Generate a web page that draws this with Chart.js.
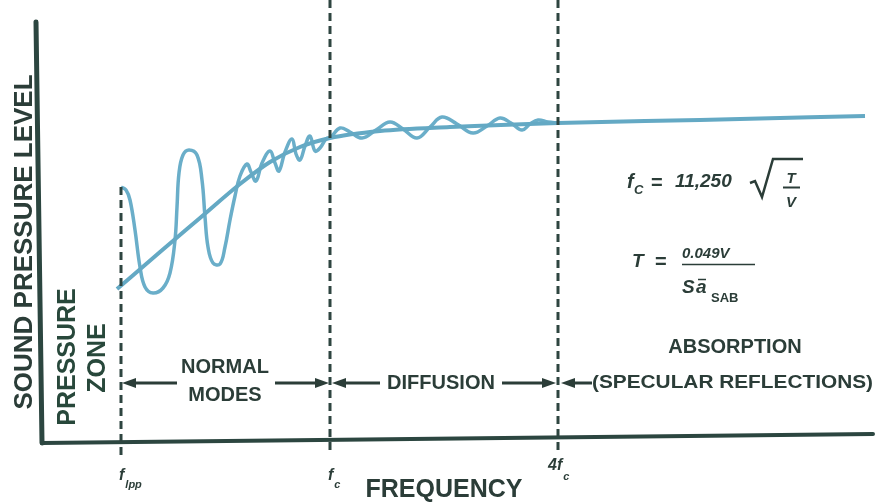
<!DOCTYPE html>
<html>
<head>
<meta charset="utf-8">
<script src="https://cdn.jsdelivr.net/npm/chart.js@4/dist/chart.umd.min.js"></script>
<style>
html,body{margin:0;padding:0;background:#fff;}
canvas{display:block;}
</style>
</head>
<body>
<canvas id="c" width="875" height="504"></canvas>
<script>
// Units: x = frequency position (0 at the axis origin), y = sound pressure level (0 at the axis)
const trendX = [77, 120, 160, 200, 230, 260, 290, 340, 410, 518, 660, 825];
const trendY = [151, 188, 222, 256, 278, 293, 302, 309, 313, 317, 320, 324];

const responseX = [81, 86, 90, 95, 100, 105, 113, 123, 130, 135, 137, 139, 143, 149, 157, 162, 165, 168, 173, 180,
  185, 190, 195, 200, 207, 211, 216, 222, 230, 235, 239, 245, 252, 256, 260, 265, 270, 275, 280, 286,
  291, 300, 310, 322, 336, 350, 363, 377, 390, 402, 417, 433, 447, 460, 471, 482, 490, 498, 508, 518];
const responseY = [253, 250, 240, 210, 173, 153, 147, 152, 167, 200, 233, 267, 285, 290, 285, 260, 223, 193, 177, 176,
  193, 220, 244, 264, 276, 268, 259, 277, 289, 277, 269, 288, 301, 286, 280, 294, 304, 289, 292, 301,
  303, 312, 308, 302, 310, 318, 311, 302, 313, 323, 316, 307, 314, 322, 317, 310, 316, 320, 318, 317];

const boundaryX = [81, 290, 518];
const boundaryTop = [253, 440, 440];
const tickMain = ['f', 'f', '4f'];
const tickSub = ['lpp', 'c', 'c'];

const axisLeftX = [-4, 2];
const axisLeftY = [418, -3];
const axisBottomX = [2, 833];
const axisBottomY = [-3, 6];

const regionNames = ['PRESSURE ZONE', 'NORMAL MODES', 'DIFFUSION', 'ABSORPTION (SPECULAR REFLECTIONS)'];

const pts = (xs, ys) => xs.map((x, i) => ({x: x, y: ys[i]}));

const INK = '#2b3d38';
const AXIS = '#2c4640';
const CURVE = '#6aaec9';

const datasets = [];
boundaryX.forEach((bx, i) => {
  datasets.push({data: [{x: bx, y: boundaryTop[i]}, {x: bx, y: -15}], showLine: true, pointRadius: 0,
    borderColor: '#2e4540', borderWidth: 3, borderDash: [8, 5], tension: 0});
});
datasets.push({data: pts(axisLeftX, axisLeftY), showLine: true, pointRadius: 0, borderColor: AXIS, borderWidth: 5, borderCapStyle: 'round'});
datasets.push({data: pts(axisBottomX, axisBottomY), showLine: true, pointRadius: 0, borderColor: AXIS, borderWidth: 4, borderCapStyle: 'round'});
datasets.push({data: pts(trendX, trendY), showLine: true, pointRadius: 0, borderColor: '#64a9c4', borderWidth: 4, tension: 0.4, cubicInterpolationMode: 'monotone'});
datasets.push({data: pts(responseX, responseY), showLine: true, pointRadius: 0, borderColor: CURVE, borderWidth: 3.5, tension: 0.4});

function arrow(ctx, x1, y, x2) {
  const dir = x2 > x1 ? 1 : -1;
  ctx.beginPath();
  ctx.moveTo(x1, y);
  ctx.lineTo(x2 - dir * 10, y);
  ctx.stroke();
  ctx.beginPath();
  ctx.moveTo(x2, y);
  ctx.lineTo(x2 - dir * 14, y - 5);
  ctx.lineTo(x2 - dir * 14, y + 5);
  ctx.closePath();
  ctx.fill();
}

const annot = {
  id: 'annot',
  afterDatasetsDraw(chart) {
    const ctx = chart.ctx;
    const xs = chart.scales.x, ys = chart.scales.y;
    const bpx = boundaryX.map(v => xs.getPixelForValue(v));
    const rowY = ys.getPixelForValue(57);
    ctx.save();
    ctx.fillStyle = INK;
    ctx.strokeStyle = INK;
    ctx.lineWidth = 3;
    // arrows
    arrow(ctx, 177, rowY, bpx[0] + 1);
    arrow(ctx, 275, rowY, bpx[1] - 1);
    arrow(ctx, 380, rowY, bpx[1] + 2);
    arrow(ctx, 502, rowY, bpx[2] - 2);
    arrow(ctx, 592, rowY, bpx[2] + 3);

    ctx.textAlign = 'center';
    ctx.textBaseline = 'middle';
    ctx.font = 'bold 20px "Liberation Sans", Arial, sans-serif';
    const nm = regionNames[1].split(' ');
    ctx.fillText(nm[0], 225, 367);
    ctx.fillText(nm[1], 225, 395);
    ctx.fillText(regionNames[2], 441, rowY);
    const ab = regionNames[3].split(' (');
    ctx.fillText(ab[0], 735, 347);
    ctx.textAlign = 'left';
    ctx.font = 'bold 19px "Liberation Sans", Arial, sans-serif';
    const spec = '(' + ab[1];
    const w = ctx.measureText(spec).width;
    ctx.save();
    ctx.translate(592, rowY);
    ctx.scale(281 / w, 1);
    ctx.fillText(spec, 0, 0);
    ctx.restore();

    // rotated labels
    ctx.textAlign = 'center';
    ctx.font = 'bold 26px "Liberation Sans", Arial, sans-serif';
    ctx.save();
    ctx.translate(25, 242);
    ctx.rotate(-Math.PI / 2);
    ctx.fillText('SOUND PRESSURE LEVEL', 0, 0);
    ctx.restore();
    ctx.fillStyle = '#28483b';
    ctx.font = 'bold 25px "Liberation Sans", Arial, sans-serif';
    const pz = regionNames[0].split(' ');
    ctx.save();
    ctx.translate(68, 357);
    ctx.rotate(-Math.PI / 2);
    ctx.fillText(pz[0], 0, 0);
    ctx.restore();
    ctx.save();
    ctx.translate(98, 358);
    ctx.rotate(-Math.PI / 2);
    ctx.fillText(pz[1], 0, 0);
    ctx.restore();

    // axis title
    ctx.fillStyle = INK;
    ctx.font = 'bold 25px "Liberation Sans", Arial, sans-serif';
    ctx.fillText('FREQUENCY', 444, 490);

    // tick labels
    ctx.textAlign = 'left';
    ctx.textBaseline = 'alphabetic';
    const mainBase = [480, 480, 470];
    const subBase = [488, 488, 480];
    bpx.forEach((px, i) => {
      ctx.font = 'bold italic 16px "Liberation Sans", Arial, sans-serif';
      const left = i === 2 ? px - 10 : px - 2;
      ctx.fillText(tickMain[i], left, mainBase[i]);
      const mw = ctx.measureText(tickMain[i]).width;
      ctx.font = 'bold italic 11px "Liberation Sans", Arial, sans-serif';
      ctx.fillText(tickSub[i], left + mw + 1, subBase[i]);
    });

    // formula 1
    ctx.font = 'bold italic 20px "Liberation Sans", Arial, sans-serif';
    ctx.fillText('f', 627, 188);
    ctx.font = 'bold italic 13px "Liberation Sans", Arial, sans-serif';
    ctx.fillText('C', 634, 194);
    ctx.font = 'bold 20px "Liberation Sans", Arial, sans-serif';
    ctx.fillText('=', 651, 189);
    ctx.font = 'bold italic 19px "Liberation Sans", Arial, sans-serif';
    ctx.fillText('11,250', 675, 187);
    ctx.lineWidth = 2.5;
    ctx.beginPath();
    ctx.moveTo(750, 183);
    ctx.lineTo(755, 181);
    ctx.lineTo(762, 197);
    ctx.lineTo(773, 159);
    ctx.lineTo(803, 159);
    ctx.stroke();
    ctx.font = 'bold italic 15px "Liberation Sans", Arial, sans-serif';
    ctx.textAlign = 'center';
    ctx.fillText('T', 791, 183);
    ctx.fillText('V', 791, 207);
    ctx.lineWidth = 2;
    ctx.beginPath();
    ctx.moveTo(783, 187.5);
    ctx.lineTo(800, 187.5);
    ctx.stroke();

    // formula 2
    ctx.textAlign = 'left';
    ctx.font = 'bold italic 19px "Liberation Sans", Arial, sans-serif';
    ctx.fillText('T', 632, 267);
    ctx.font = 'bold 20px "Liberation Sans", Arial, sans-serif';
    ctx.fillText('=', 655, 268);
    ctx.font = 'bold italic 15px "Liberation Sans", Arial, sans-serif';
    ctx.fillText('0.049V', 682, 258);
    ctx.lineWidth = 1.5;
    ctx.beginPath();
    ctx.moveTo(682, 264.5);
    ctx.lineTo(755, 264.5);
    ctx.stroke();
    ctx.font = 'bold italic 19px "Liberation Sans", Arial, sans-serif';
    ctx.fillText('S', 682, 293);
    ctx.fillText('a', 696, 293);
    ctx.lineWidth = 1.5;
    ctx.beginPath();
    ctx.moveTo(698, 279.5);
    ctx.lineTo(706, 279.5);
    ctx.stroke();
    ctx.font = 'bold 13px "Liberation Sans", Arial, sans-serif';
    ctx.fillText('SAB', 711, 302);
    ctx.restore();
  }
};

new Chart(document.getElementById('c'), {
  type: 'scatter',
  data: {datasets: datasets},
  options: {
    responsive: false,
    animation: false,
    devicePixelRatio: 1,
    layout: {padding: 0},
    plugins: {legend: {display: false}, tooltip: {enabled: false}},
    scales: {
      x: {type: 'linear', min: -40, max: 835, display: false},
      y: {type: 'linear', min: -64, max: 440, display: false}
    }
  },
  plugins: [annot]
});
</script>
</body>
</html>
